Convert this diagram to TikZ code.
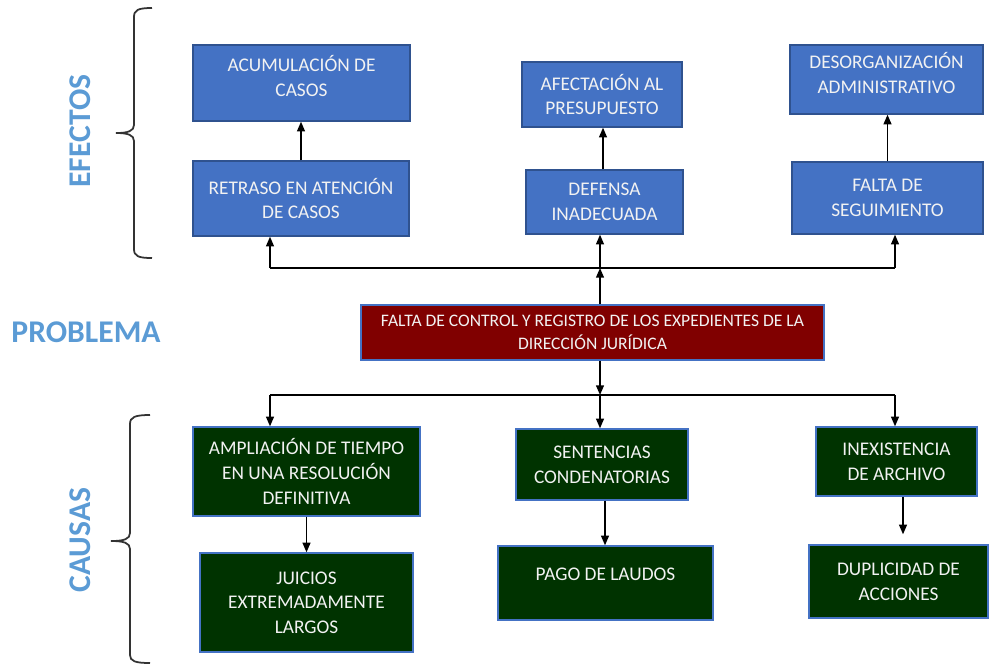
\documentclass[tikz,border=0pt]{standalone}
\usepackage{fontspec}
\setmainfont{Carlito}
\usetikzlibrary{arrows.meta}
\definecolor{effectBlue}{RGB}{68,114,196}
\definecolor{effectEdge}{RGB}{47,82,143}
\definecolor{problemRed}{RGB}{128,0,0}
\definecolor{causeGreen}{RGB}{0,51,0}
\definecolor{labelBlue}{RGB}{91,155,213}
\definecolor{boxText}{RGB}{242,242,242}
\tikzstyle{effectBox}=[shape = rectangle, draw = effectEdge, fill = effectBlue, line width = 0.8pt, text = boxText, align = center, inner sep = 1pt, font = \fontsize{11}{14}\selectfont]
\tikzstyle{causeBox}=[effectBox, draw = effectBlue, fill = causeGreen]
\tikzstyle{problemBox}=[effectBox, draw = effectBlue, fill = problemRed, font = \fontsize{10}{13}\selectfont]
\tikzstyle{sideLabel}=[text = labelBlue, inner sep = 0pt, font = \fontsize{18}{18}\selectfont\bfseries]
\tikzstyle{arrowLine}=[line width = 0.8pt, -{Triangle[length = 5.5pt, width = 4.5pt]}]
\tikzstyle{busLine}=[line width = 0.8pt]
\tikzstyle{braceLine}=[line width = 1pt, draw = black!80]

\begin{document}
\begin{tikzpicture}[x = 0.02cm, y = -0.02cm]
\useasboundingbox (0,0) rectangle (989,664);
% efectos
\node[effectBox, minimum width = 4.34cm, minimum height = 1.52cm, text depth = 0.28cm] (e1) at (301.5,83) {ACUMULACIÓN DE\\CASOS};
\node[effectBox, minimum width = 4.32cm, minimum height = 1.50cm] (e2) at (301,198.5) {RETRASO EN ATENCIÓN\\DE CASOS};
\node[effectBox, minimum width = 3.20cm, minimum height = 1.30cm] (e3) at (602,94.5) {AFECTACIÓN AL\\PRESUPUESTO};
\node[effectBox, minimum width = 3.14cm, minimum height = 1.28cm] (e4) at (604.5,202) {DEFENSA\\INADECUADA};
\node[effectBox, minimum width = 3.86cm, minimum height = 1.38cm, text depth = 0.26cm] (e5) at (886.5,79.5) {DESORGANIZACIÓN\\ADMINISTRATIVO};
\node[effectBox, minimum width = 3.82cm, minimum height = 1.44cm] (e6) at (887.5,198) {FALTA DE\\SEGUIMIENTO};
% problema
\node[problemBox, minimum width = 9.26cm, minimum height = 1.10cm] (p) at (592.5,332.5) {FALTA DE CONTROL Y REGISTRO DE LOS EXPEDIENTES DE LA\\DIRECCIÓN JURÍDICA};
% causas
\node[causeBox, minimum width = 4.54cm, minimum height = 1.78cm] (c1) at (306.5,471.5) {AMPLIACIÓN DE TIEMPO\\EN UNA RESOLUCIÓN\\DEFINITIVA};
\node[causeBox, minimum width = 3.44cm, minimum height = 1.42cm] (c2) at (602,464.5) {SENTENCIAS\\CONDENATORIAS};
\node[causeBox, minimum width = 3.22cm, minimum height = 1.38cm] (c3) at (896.5,461.5) {INEXISTENCIA\\DE ARCHIVO};
\node[causeBox, minimum width = 4.26cm, minimum height = 1.98cm] (c4) at (306.5,602.5) {JUICIOS\\EXTREMADAMENTE\\LARGOS};
\node[causeBox, minimum width = 4.30cm, minimum height = 1.48cm, text depth = 0.36cm] (c5) at (605.5,583) {PAGO DE LAUDOS};
\node[causeBox, minimum width = 3.58cm, minimum height = 1.46cm] (c6) at (898.5,581.5) {DUPLICIDAD DE\\ACCIONES};
% titulos
\node[sideLabel, rotate = 90] (lefe) at (80,131) {EFECTOS};
\node[sideLabel] (lpro) at (86,332) {PROBLEMA};
\node[sideLabel, rotate = 90] (lcau) at (80,540) {CAUSAS};
% buses
\coordinate (tl) at (270,268);
\coordinate (tm) at (600,268);
\coordinate (tr) at (895,268);
\coordinate (bl) at (270,395);
\coordinate (bm) at (600,395);
\coordinate (br) at (895,395);
\draw[busLine] (tl) -- (tr);
\draw[busLine] (bl) -- (br);
\draw[arrowLine] (p.north -| tm) -- (tm);
\draw[arrowLine] (tl) -- (tl |- e2.south);
\draw[arrowLine] (tm) -- (tm |- e4.south);
\draw[arrowLine] (tr) -- (tr |- e6.south);
\draw[arrowLine] (p.south -| bm) -- (bm);
\draw[arrowLine] (bl) -- (bl |- c1.north);
\draw[arrowLine] (bm) -- (bm |- c2.north);
\draw[arrowLine] (br) -- (br |- c3.north);
% flechas internas
\draw[arrowLine] (e2.north) -- (e2.north |- e1.south);
\draw[arrowLine] ([xshift = -0.03cm]e4.north) -- ([xshift = -0.03cm]e4.north |- e3.south);
\draw[arrowLine] (e6.north) -- (e6.north |- e5.south);
\draw[arrowLine] (c1.south) -- (c1.south |- c4.north);
\draw[arrowLine] ([xshift = 0.06cm]c2.south) -- ([xshift = 0.06cm]c2.south |- c5.north);
\draw[arrowLine, shorten >= 0.2cm] ([xshift = 0.13cm]c3.south) -- ([xshift = 0.13cm]c3.south |- c6.north);
% llaves
\draw[braceLine] (152,8) .. controls (138,8) and (134,10) .. (134,17) -- (134,125) .. controls (134,131) and (128,133) .. (116,133) .. controls (128,133) and (134,135) .. (134,141) -- (134,249) .. controls (134,256) and (138,258) .. (152,258);
\draw[braceLine] (150,415) .. controls (135,415) and (130,417) .. (130,424) -- (130,533) .. controls (130,539) and (124,541) .. (111,541) .. controls (124,541) and (130,543) .. (130,549) -- (130,655) .. controls (130,661) and (135,663) .. (150,663);
\end{tikzpicture}
\end{document}
